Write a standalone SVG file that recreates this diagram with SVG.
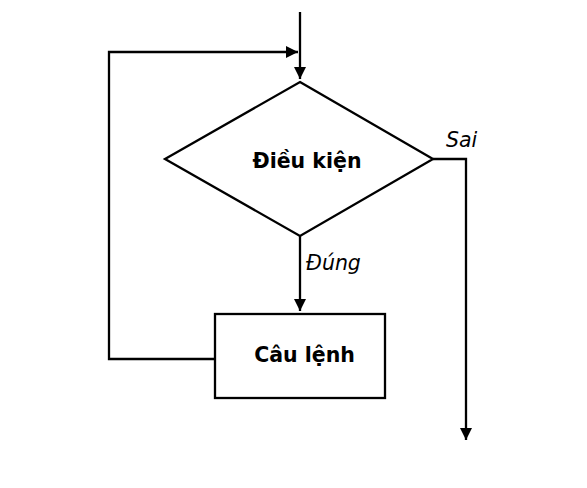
<svg xmlns="http://www.w3.org/2000/svg" width="587" height="488" viewBox="0 0 587 488">
<style>
.ln{fill:none;stroke:#000;stroke-width:2.3}
.sh{fill:#fff;stroke:#000;stroke-width:2.3}
.b{font-family:"DejaVu Sans",sans-serif;font-weight:bold;font-size:20.5px;text-anchor:middle}
.i{font-family:"DejaVu Sans",sans-serif;font-style:italic;font-size:20.5px}
</style>
<defs>
<marker id="ah" viewBox="0 0 12 12" refX="12" refY="6" markerWidth="12" markerHeight="12" markerUnits="userSpaceOnUse" orient="auto">
<path d="M0,0 L12,6 L0,12 z" fill="#000"/>
</marker>
</defs>
<rect width="587" height="488" fill="#fff"/>
<g id="connectors">
<path class="ln" d="M300,12 V79" marker-end="url(#ah)"/>
<path class="ln" d="M215,359 H109 V52 H298" marker-end="url(#ah)"/>
<path class="ln" d="M300,236 V311" marker-end="url(#ah)"/>
<path class="ln" d="M433,159 H466 V440" marker-end="url(#ah)"/>
<text class="i" x="306" y="270">Đúng</text>
<text class="i" x="446" y="147">Sai</text>
</g>
<g id="dieu-kien">
<polygon class="sh" points="300,82 433,159 300,236 165,159"/>
<text class="b" x="307" y="168">Điều kiện</text>
</g>
<g id="cau-lenh">
<rect class="sh" x="215" y="314" width="170" height="84"/>
<text class="b" x="304.5" y="362">Câu lệnh</text>
</g>
</svg>
